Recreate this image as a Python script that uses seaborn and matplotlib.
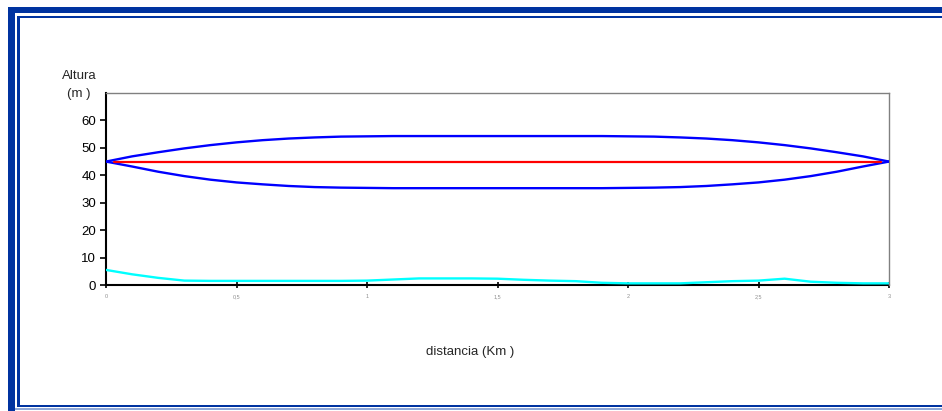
import numpy as np
import pandas as pd
import matplotlib
matplotlib.use("Agg")
import matplotlib.pyplot as plt
from matplotlib.patches import Rectangle
import seaborn as sns

# ---- data ----
dist_km = [0.0, 0.1, 0.2, 0.3, 0.4, 0.5, 0.6, 0.7, 0.8, 0.9, 1.0,
           1.1, 1.2, 1.3, 1.4, 1.5, 1.6, 1.7, 1.8, 1.9, 2.0,
           2.1, 2.2, 2.3, 2.4, 2.5, 2.6, 2.7, 2.8, 2.9, 3.0]
fresnel_upper = [45.0, 46.9, 48.4, 49.8, 51.0, 52.0, 52.8, 53.4, 53.8, 54.1, 54.2,
                 54.3, 54.3, 54.3, 54.3, 54.3, 54.3, 54.3, 54.3, 54.3, 54.2,
                 54.1, 53.8, 53.4, 52.8, 52.0, 51.0, 49.8, 48.4, 46.9, 45.0]
fresnel_lower = [45.0, 43.2, 41.3, 39.7, 38.4, 37.4, 36.7, 36.1, 35.7, 35.5, 35.4,
                 35.3, 35.3, 35.3, 35.3, 35.3, 35.3, 35.3, 35.3, 35.3, 35.4,
                 35.5, 35.7, 36.1, 36.7, 37.4, 38.4, 39.7, 41.3, 43.2, 45.0]
terrain = [5.5, 3.9, 2.6, 1.6, 1.5, 1.5, 1.5, 1.5, 1.5, 1.5, 1.6,
           2.0, 2.4, 2.4, 2.4, 2.3, 1.9, 1.6, 1.4, 0.8, 0.6,
           0.6, 0.6, 1.0, 1.4, 1.6, 2.3, 1.2, 0.8, 0.6, 0.6]
los_x = [0.03, 2.97]
los_y = [45.0, 45.0]

y_ticks = [0, 10, 20, 30, 40, 50, 60]
x_ticks = [0, 0.5, 1, 1.5, 2, 2.5, 3]
x_tick_labels = ["0", "0,5", "1", "1,5", "2", "2,5", "3"]

sns.set_theme(style="white")
plt.rcParams['font.family'] = ['Liberation Sans', 'DejaVu Sans']

W, H = 942, 411
fig = plt.figure(figsize=(W / 100, H / 100), dpi=100)
fig.patch.set_facecolor("white")

# decorative frame (pixel coordinates -> figure fraction)
def px_rect(x0, y0, x1, y1, color):
    fig.patches.append(Rectangle((x0 / W, 1 - y1 / H), (x1 - x0) / W, (y1 - y0) / H,
                                 transform=fig.transFigure, facecolor=color,
                                 edgecolor="none", zorder=0))

dark = "#0033a0"
px_rect(8, 7, W + 2, 13.5, dark)       # outer top band
px_rect(8, 7, 15, H + 2, dark)         # outer left band
px_rect(17, 16, W + 2, 18.5, dark)     # inner top line
px_rect(17, 16, 19.5, 407, dark)       # inner left line
px_rect(17, 404.5, W + 2, 407, dark)   # inner bottom line
px_rect(15, 408, W + 2, 409.5, "#8fa8d8")

# axes
left, right, top, bottom = 106, 889, 93, 285
ax = fig.add_axes([left / W, 1 - bottom / H, (right - left) / W, (bottom - top) / H])
ax.set_facecolor("white")

df_t = pd.DataFrame({"d": dist_km, "h": terrain})
df_u = pd.DataFrame({"d": dist_km, "h": fresnel_upper})
df_l = pd.DataFrame({"d": dist_km, "h": fresnel_lower})
df_r = pd.DataFrame({"d": los_x, "h": los_y})

sns.lineplot(data=df_t, x="d", y="h", ax=ax, color="#00ffff", lw=1.7, zorder=2)
sns.lineplot(data=df_u, x="d", y="h", ax=ax, color="#0000ff", lw=1.7, zorder=3)
sns.lineplot(data=df_l, x="d", y="h", ax=ax, color="#0000ff", lw=1.7, zorder=3)
sns.lineplot(data=df_r, x="d", y="h", ax=ax, color="#ff0000", lw=1.6, zorder=4)

ax.set_xlim(0, 3)
ax.set_ylim(0, 70)
ax.set_yticks(y_ticks)
ax.set_yticklabels([str(v) for v in y_ticks], fontsize=9.5, color="black")
ax.set_xticks(x_ticks)
ax.set_xticklabels(x_tick_labels, fontsize=4, color="#909090")
ax.set_xlabel("")
ax.set_ylabel("")

for s in ("top", "right"):
    ax.spines[s].set_color("#808080")
    ax.spines[s].set_linewidth(1.0)
for s in ("left", "bottom"):
    ax.spines[s].set_color("black")
    ax.spines[s].set_linewidth(1.5)
    ax.spines[s].set_zorder(1)

ax.tick_params(axis="y", direction="out", length=4, width=1.2, color="black", pad=3, left=True)
ax.tick_params(axis="x", direction="inout", length=5, width=1.2, color="black", pad=4, bottom=True)

fig.text(62 / W, 1 - 76 / H, "Altura", fontsize=9.5, ha="left", va="center")
fig.text(67 / W, 1 - 94 / H, "(m )", fontsize=9.5, ha="left", va="center")
fig.text(470 / W, 1 - 352 / H, "distancia (Km )", fontsize=9.5, ha="center", va="center")

fig.savefig("out.png", dpi=100, facecolor="white")
